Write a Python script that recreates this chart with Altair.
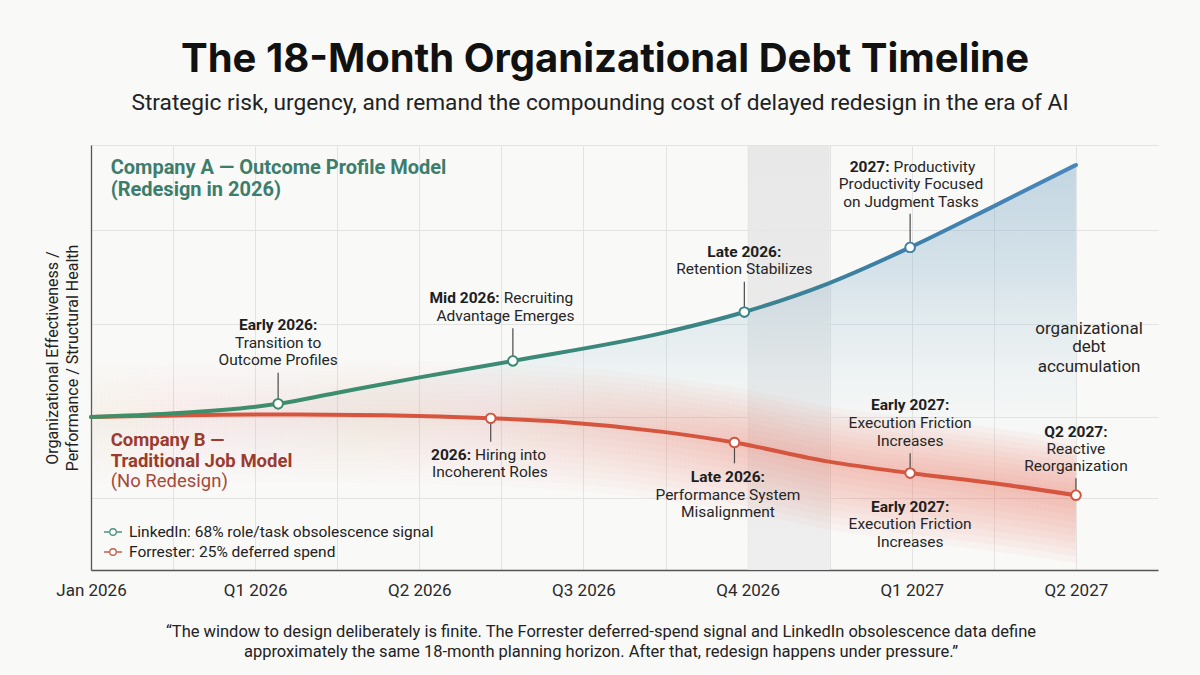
import json
import altair as alt
import pandas as pd

# ---------------------------------------------------------------- series data
LINKEDIN = "LinkedIn: 68% role/task obsolescence signal"
FORRESTER = "Forrester: 25% deferred spend"

# x runs in half-quarter steps: 0 = Jan 2026 ... 12 = Q2 2027
A_T = [0, 0.96, 2.28, 2.97, 3.97, 5.14, 6.97, 7.96, 8.98, 9.98, 10.99, 12.0]
A_V = [36.0, 36.8, 39.1, 41.6, 45.2, 49.2, 55.8, 60.7, 67.4, 75.9, 85.5, 95.3]

B_T = [0, 2.3, 3.6, 4.87, 5.71, 6.97, 7.84, 8.99, 9.98, 11.0, 12.0]
B_V = [36.0, 36.6, 36.4, 35.7, 34.9, 32.5, 30.0, 25.5, 22.8, 20.4, 17.6]

# milestone markers (on the curves) and the end of each leader line
MK_T = [2.28, 5.14, 7.96, 9.98, 4.87, 7.84, 9.98, 12.0]
MK_V = [39.1, 49.2, 60.7, 75.9, 35.7, 30.0, 22.8, 17.6]
MK_LEAD = [46.4, 56.9, 67.8, 83.8, 30.2, 25.1, 27.5, 21.6]
MK_SERIES = [LINKEDIN] * 4 + [FORRESTER] * 4
MK_COLOR = ["#3f8b68", "#3d8a72", "#3a8486", "#3f80aa",
            "#d4553f", "#d4553f", "#d4553f", "#d4553f"]

# shaded decision window
BAND_T = [8, 9]

X_LABELS = ["Jan 2026", "Q1 2026", "Q2 2026", "Q3 2026", "Q4 2026", "Q1 2027", "Q2 2027"]
Y_GRID = [17, 36, 58, 80, 100]

# ---------------------------------------------------------------- annotation text
# style: cb = centred bold, cn = centred normal, rb = bold part ending at t,
# ln = normal part starting at t, cx = larger centred note
NOTE_TEXT = [
    "Early 2026:", "Transition to", "Outcome Profiles",
    "Mid 2026:", "Recruiting", "Advantage Emerges",
    "Late 2026:", "Retention Stabilizes",
    "2027:", "Productivity", "Productivity Focused", "on Judgment Tasks",
    "organizational", "debt", "accumulation",
    "2026:", "Hiring into", "Incoherent Roles",
    "Late 2026:", "Performance System", "Misalignment",
    "Early 2027:", "Execution Friction", "Increases",
    "Early 2027:", "Execution Friction", "Increases",
    "Q2 2027:", "Reactive", "Reorganization",
]
NOTE_T = [
    2.28, 2.28, 2.28,
    4.98, 4.98, 5.05,
    7.96, 7.96,
    9.73, 9.73, 9.99, 9.99,
    12.16, 12.16, 12.16,
    4.63, 4.63, 4.86,
    7.76, 7.76, 7.76,
    9.98, 9.98, 9.98,
    9.98, 9.98, 9.98,
    12.0, 12.0, 12.0,
]
NOTE_V = [
    57.6, 53.5, 49.4,
    64.0, 64.0, 59.8,
    74.8, 70.8,
    94.9, 94.9, 90.8, 86.7,
    56.7, 52.4, 47.8,
    27.1, 27.1, 23.1,
    21.8, 17.6, 13.6,
    38.8, 34.5, 30.4,
    14.8, 10.8, 6.7,
    32.5, 28.5, 24.5,
]
NOTE_STYLE = [
    "cb", "cn", "cn",
    "rb", "ln", "cn",
    "cb", "cn",
    "rb", "ln", "cn", "cn",
    "cx", "cx", "cx",
    "rb", "ln", "cn",
    "cb", "cn", "cn",
    "cb", "cn", "cn",
    "cb", "cn", "cn",
    "cb", "cn", "cn",
]

# series labels inside the plot
SERIES_TEXT = ["Company A \u2014 Outcome Profile Model", "(Redesign in 2026)",
               "Company B \u2014", "Traditional Job Model", "(No Redesign)"]
SERIES_T = [0.24, 0.24, 0.24, 0.24, 0.24]
SERIES_V = [94.5, 89.4, 30.6, 25.7, 20.9]
SERIES_KIND = ["a", "a", "b", "b", "bn"]

TITLE = "The 18-Month Organizational Debt Timeline"
SUBTITLE = ("Strategic risk, urgency, and remand the compounding cost of delayed "
            "redesign in the era of AI")
QUOTE = [
    "\u201cThe window to design deliberately is finite. The Forrester deferred-spend "
    "signal and LinkedIn obsolescence data define",
    "approximately the same 18-month planning horizon. After that, redesign happens "
    "under pressure.\u201d",
]
Y_TITLE = ["Organizational Effectiveness /", "Performance / Structural Health"]

# ---------------------------------------------------------------- tables
line_a = pd.DataFrame({"t": A_T, "v": A_V})
line_b = pd.DataFrame({"t": B_T, "v": B_V})
markers = pd.DataFrame({"t": MK_T, "v": MK_V, "v2": MK_LEAD,
                        "series": MK_SERIES, "col": MK_COLOR})
band = pd.DataFrame({"t": [BAND_T[0]], "t2": [BAND_T[1]]})
notes = pd.DataFrame({"text": NOTE_TEXT, "t": NOTE_T, "v": NOTE_V, "style": NOTE_STYLE})
series_lbl = pd.DataFrame({"text": SERIES_TEXT, "t": SERIES_T, "v": SERIES_V,
                           "kind": SERIES_KIND})
one = pd.DataFrame({"k": [0]})

W, H = 1067, 425
FONT = "Roboto"

label_expr = f"datum.value % 2 == 0 ? {json.dumps(X_LABELS)}[datum.value / 2] : ''"
x_axis = alt.Axis(values=list(range(13)), labelExpr=label_expr, title=None,
                  grid=True, gridColor="#e3e3e3", gridWidth=1,
                  domainColor="#555555", domainWidth=1.3, ticks=False,
                  labelFont=FONT, labelFontSize=17, labelColor="#2a2a2a",
                  labelPadding=12, labelOverlap=False, labelBound=False,
                  labelFlush=False)
y_axis = alt.Axis(values=Y_GRID, labels=False, ticks=False, title=Y_TITLE,
                  grid=True, gridColor="#e3e3e3", gridWidth=1,
                  domainColor="#555555", domainWidth=1.3,
                  titleFont=FONT, titleFontSize=16, titleFontWeight="normal",
                  titleColor="#222222", titlePadding=11, titleLineHeight=20)
Y_SCALE = alt.Scale(domain=[0, 100], nice=False)
X = alt.X("t:Q", scale=alt.Scale(domain=[0, 13], nice=False, zero=False), axis=x_axis)
Y = alt.Y("v:Q", scale=Y_SCALE, axis=y_axis)


def grad(stops, vertical=False):
    return alt.Gradient(
        gradient="linear",
        stops=[alt.GradientStop(offset=o, color=c) for o, c in stops],
        x1=0, y1=0, x2=0 if vertical else 1, y2=1 if vertical else 0,
    )


# grey decision window
band_layer = alt.Chart(band).mark_rect(
    fill=grad([(0, "#e5e5e5"), (1, "#ececec")], vertical=True), opacity=0.85
).encode(x=X, x2="t2:Q", y=alt.value(0), y2=alt.value(H))

# soft fill under Company A
area_a = alt.Chart(line_a).mark_area(
    interpolate="monotone",
    fill=grad([(0, "rgba(120,165,195,0.42)"), (0.25, "rgba(130,172,198,0.31)"),
               (0.45, "rgba(150,190,205,0.17)"), (0.62, "rgba(190,215,220,0.07)"),
               (0.76, "rgba(230,240,240,0.0)")],
              vertical=True),
).encode(x=X, y=Y, y2=alt.value(H))

# red haze around Company B, built from nested bands that widen step by step
glow_fill = grad([(0, "rgba(228,120,100,0.008)"), (0.4, "rgba(228,115,95,0.02)"),
                  (0.65, "rgba(228,110,90,0.042)"), (1, "rgba(228,110,90,0.055)")])
glow_layers = []
for k in range(1, 11):
    glow_layers.append(
        alt.Chart(line_b).transform_calculate(
            top=f"datum.v + {1.3 * k}", bottom=f"datum.v - {1.6 * k}"
        ).mark_area(interpolate="monotone", fill=glow_fill, clip=True).encode(
            x=X, y=alt.Y("top:Q", scale=Y_SCALE, axis=y_axis), y2="bottom:Q")
    )

line_a_layer = alt.Chart(line_a).mark_line(
    interpolate="monotone", strokeWidth=4, strokeCap="round",
    stroke=grad([(0, "#3f8f66"), (0.4, "#3c8b74"), (0.62, "#3a8585"),
                 (0.82, "#3d7fa8"), (1, "#4a86bb")]),
).encode(x=X, y=Y)

line_b_layer = alt.Chart(line_b).mark_line(
    interpolate="monotone", strokeWidth=4, strokeCap="round", stroke="#d6553e"
).encode(x=X, y=Y)

leaders = alt.Chart(markers).mark_rule(color="#4a4a4a", strokeWidth=1.2).encode(
    x=X, y=Y, y2="v2:Q")

legend_pts = alt.Chart(markers).mark_point(
    filled=True, fill="white", size=90, strokeWidth=1.8, opacity=1
).encode(
    x=X, y=Y,
    stroke=alt.Stroke(
        "series:N",
        scale=alt.Scale(domain=[LINKEDIN, FORRESTER], range=["#4d9580", "#c65f49"]),
        legend=alt.Legend(
            title=None, orient="none", legendX=12, legendY=377,
            symbolType="M-1,0H-0.36M0.36,0H1M0.36,0A0.36,0.36,0,1,1,-0.36,0A0.36,0.36,0,1,1,0.36,0Z",
            symbolSize=324, symbolStrokeWidth=1.3, symbolFillColor="white",
            labelFont=FONT, labelFontSize=15.5, labelColor="#222222",
            labelOffset=6, rowPadding=1, labelLimit=400,
        ),
    ),
)

marker_pts = alt.Chart(markers).mark_point(
    filled=True, fill="white", size=90, strokeWidth=1.8, opacity=1
).encode(x=X, y=Y, stroke=alt.Stroke("col:N", scale=None))


def note_layer(style, align, weight, dx=0, color="#1e1e1e", size=15.5):
    return alt.Chart(notes).transform_filter(f"datum.style == '{style}'").mark_text(
        align=align, baseline="middle", font=FONT, fontSize=size,
        fontWeight=weight, color=color, dx=dx
    ).encode(x=X, y=Y, text="text:N")


notes_layers = [
    note_layer("cb", "center", "bold"),
    note_layer("cn", "center", "normal", color="#262626"),
    note_layer("rb", "right", "bold"),
    note_layer("ln", "left", "normal", dx=4, color="#262626"),
    note_layer("cx", "center", "normal", color="#262626", size=17),
]


def series_layer(kind, weight, color, size):
    return alt.Chart(series_lbl).transform_filter(f"datum.kind == '{kind}'").mark_text(
        align="left", baseline="middle", font=FONT, fontSize=size,
        fontWeight=weight, color=color
    ).encode(x=X, y=Y, text="text:N")


series_layers = [
    series_layer("a", "bold", "#3c7d6c", 20),
    series_layer("b", "bold", "#9c3b2d", 18.5),
    series_layer("bn", "normal", "#a84838", 18.5),
]

# headline, subtitle and closing quote
title_layer = alt.Chart(one).mark_text(
    text=TITLE, font="Inter", fontSize=40, fontWeight="bold", color="#111111",
    align="center", baseline="middle"
).encode(x=alt.value(514), y=alt.value(-85))
subtitle_layer = alt.Chart(one).mark_text(
    text=SUBTITLE, font=FONT, fontSize=22.7, color="#222222",
    align="center", baseline="middle"
).encode(x=alt.value(509), y=alt.value(-42))
quote_layers = [
    alt.Chart(one).mark_text(
        text=q, font=FONT, fontSize=16.5, color="#222222",
        align="center", baseline="middle"
    ).encode(x=alt.value(510), y=alt.value(yy))
    for q, yy in zip(QUOTE, [487, 507])
]

chart = alt.layer(
    band_layer, area_a, *glow_layers, line_b_layer, line_a_layer, leaders,
    legend_pts, marker_pts, *notes_layers, *series_layers,
    title_layer, subtitle_layer, *quote_layers,
).resolve_scale(stroke="independent").properties(
    width=W, height=H, autosize="none",
    padding={"left": 91, "top": 145, "right": 42, "bottom": 105},
    background="#f9f9f8",
).configure_view(stroke=None)

chart.save("out.html", embed_options={"renderer": "svg", "actions": False})
